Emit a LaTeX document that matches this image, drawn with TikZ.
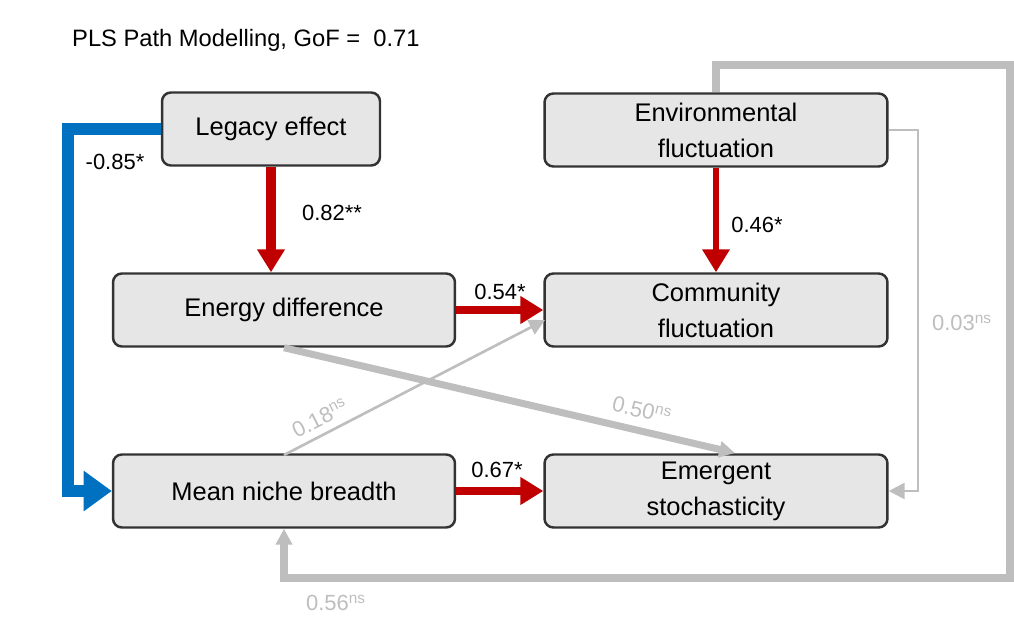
\documentclass[tikz,border=0pt]{standalone}
\usepackage{fontspec}
\setmainfont{Liberation Sans}
\usetikzlibrary{arrows.meta}
\definecolor{boxfill}{RGB}{230,230,230}
\definecolor{pathred}{RGB}{192,0,0}
\definecolor{pathblue}{RGB}{0,112,192}
\definecolor{pathgray}{RGB}{190,190,190}
\begin{document}
\begin{tikzpicture}[
        x=0.02cm, y=-0.02cm,
        box/.style={draw=black!80, fill=boxfill, rounded corners=5pt, line width=1.4pt, minimum height=1.46cm, align=center, font=\fontsize{14.5}{20.5}\selectfont},
        lbl/.style={font=\fontsize{12.5}{14}\selectfont},
        red/.style={draw=pathred, -{Triangle[length=13pt,width=15pt]}},
        grayarrow/.style={draw=pathgray, -{Triangle[length=9pt,width=9pt]}}
    ]
        \useasboundingbox (0,0) rectangle (1014,624);
        % Title
        \node[anchor=west, font=\fontsize{13.5}{16}\selectfont] (title) at (66,40) {PLS Path Modelling, GoF =\ \ 0.71};
        
        % Latent variables
        \node[box, minimum width=4.36cm] (legacy) at (271,129) {Legacy effect};
        \node[box, minimum width=6.86cm] (env) at (716,130) {Environmental\\fluctuation};
        \node[box, minimum width=6.84cm] (energy) at (284,310) {Energy difference};
        \node[box, minimum width=6.86cm] (comm) at (716,310) {Community\\fluctuation};
        \node[box, minimum width=6.84cm] (niche) at (284,491) {Mean niche breadth};
        \node[box, minimum width=6.86cm] (emerg) at (716,491) {Emergent\\stochasticity};
        
        % Helper coordinates
        \coordinate (bl1) at (68,129);
        \coordinate (bl2) at (68,491);
        \coordinate (gr1) at (918,130);
        \coordinate (gr2) at (918,491);
        \coordinate (lp1) at (716,65);
        \coordinate (lp2) at (1010,65);
        \coordinate (lp3) at (1010,578);
        \coordinate (lp4) at (284,578);
        
        % Paths
        \draw[pathblue, line width=7pt, -{Triangle[length=16pt,width=22pt]}] (legacy.west) -- (bl1) -- (bl2) -- (niche.west);
        \draw[red, line width=6pt] (legacy.south) -- (energy.north -| legacy.south);
        \draw[red, line width=3pt] (env.south) -- (comm.north);
        \draw[red, line width=5pt] (energy.east) -- (comm.west);
        \draw[red, line width=5pt] (niche.east) -- (emerg.west);
        \draw[grayarrow, line width=1.5pt] (284,455) -- (545,320);
        \draw[grayarrow, line width=4pt] (energy.south) -- (735,453);
        \draw[grayarrow, line width=1.5pt] (env.east) -- (gr1) -- (gr2) -- (emerg.east);
        \draw[grayarrow, line width=4pt] (env.north) -- (lp1) -- (lp2) -- (lp3) -- (lp4) -- (niche.south);
        
        % Coefficients
        \node[lbl] (c1) at (115,162) {-0.85*};
        \node[lbl] (c2) at (332,213) {0.82**};
        \node[lbl] (c3) at (757,225) {0.46*};
        \node[lbl] (c4) at (500,292) {0.54*};
        \node[lbl] (c5) at (497,470) {0.67*};
        \node[lbl, pathgray, rotate=27] (c6) at (320,418) {0.18\textsuperscript{ns}};
        \node[lbl, pathgray, rotate=-13] (c7) at (642,410) {0.50\textsuperscript{ns}};
        \node[lbl, pathgray] (c8) at (962,323) {0.03\textsuperscript{ns}};
        \node[lbl, pathgray] (c9) at (336,603) {0.56\textsuperscript{ns}};
    \end{tikzpicture}
\end{document}
